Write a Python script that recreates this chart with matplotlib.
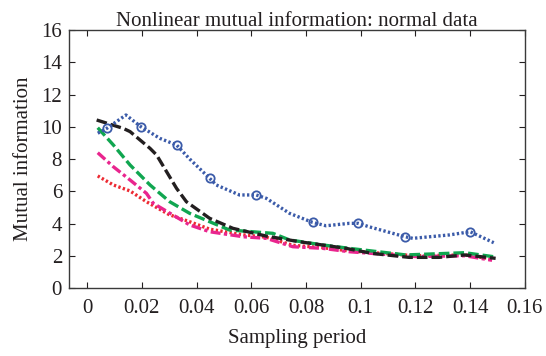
import matplotlib
matplotlib.use("Agg")
import matplotlib.pyplot as plt

plt.rcParams['font.family'] = ['Liberation Serif', 'DejaVu Serif']

title = "Nonlinear mutual information: normal data"
xlabel = "Sampling period"
ylabel = "Mutual information"
xticks = [0, 0.02, 0.04, 0.06, 0.08, 0.1, 0.12, 0.14, 0.16]
xticklabels = ["0", "0.02", "0.04", "0.06", "0.08", "0.1", "0.12", "0.14", "0.16"]
yticks = [0, 2, 4, 6, 8, 10, 12, 14, 16]

blue_x = [0.0039, 0.0072, 0.0142, 0.0197, 0.0266, 0.0327, 0.0375, 0.0448, 0.0472, 0.0557, 0.0618,
          0.0655, 0.074, 0.0824, 0.0873, 0.0958, 0.0991, 0.103, 0.1162, 0.119, 0.1323, 0.14, 0.1486]
blue_y = [9.6, 9.9, 10.73, 10.0, 9.28, 8.87, 8.0, 6.80, 6.39, 5.77, 5.77,
          5.56, 4.63, 4.07, 3.86, 4.01, 4.01, 3.80, 3.18, 3.08, 3.29, 3.49, 2.81]
blue_marks = [1, 3, 5, 7, 10, 13, 16, 18, 21]

black_x = [0.0035, 0.0132, 0.0157, 0.023, 0.0254, 0.0327, 0.0363, 0.0448, 0.0533, 0.0655, 0.0776,
           0.0946, 0.104, 0.1177, 0.1286, 0.138, 0.1493]
black_y = [10.42, 9.9, 9.7, 8.66, 8.25, 6.18, 5.35, 4.32, 3.70, 3.22, 2.87,
           2.46, 2.15, 1.90, 1.90, 2.05, 1.84]

green_x = [0.0039, 0.0096, 0.0157, 0.023, 0.0302, 0.0375, 0.0448, 0.052, 0.0679, 0.074, 0.0861,
           0.0958, 0.1165, 0.138, 0.1486]
green_y = [9.94, 8.87, 7.63, 6.39, 5.35, 4.63, 4.11, 3.60, 3.39, 2.98, 2.67,
           2.46, 2.05, 2.19, 1.94]

magenta_x = [0.0039, 0.0096, 0.0157, 0.0217, 0.0242, 0.0375, 0.0448, 0.057, 0.0655, 0.0752, 0.0861,
             0.0958, 0.12, 0.138, 0.148]
magenta_y = [8.39, 7.52, 6.70, 5.87, 5.25, 3.91, 3.49, 3.18, 3.08, 2.56, 2.46,
             2.25, 1.95, 2.0, 1.72]

red_x = [0.0039, 0.0096, 0.0157, 0.0217, 0.0300, 0.0375, 0.0448, 0.057, 0.0655, 0.0752, 0.0861,
         0.0958, 0.12, 0.138, 0.148]
red_y = [6.95, 6.39, 6.02, 5.35, 4.55, 4.11, 3.65, 3.30, 3.15, 2.65, 2.50,
         2.30, 2.0, 2.05, 1.8]

fig = plt.figure(figsize=(5.46, 3.56), dpi=100)
ax = fig.add_axes([0.1264, 0.191, 0.835, 0.7247])

lw = 2.4
ax.plot(red_x, red_y, color='#ed2a32', lw=lw, linestyle=(0, (0.7, 0.7)), dash_capstyle='butt', zorder=2)
ax.plot(magenta_x, magenta_y, color='#e9258e', lw=lw, linestyle=(0, (3, 1.0, 1.0, 1.0)), zorder=3)
ax.plot(green_x, green_y, color='#10a650', lw=lw, linestyle=(0, (3.2, 1.2)), zorder=4)
ax.plot(black_x, black_y, color='#231f20', lw=lw, linestyle=(0, (3.2, 1.2)), zorder=5)
ax.plot(blue_x, blue_y, color='#3b5ba9', lw=lw, linestyle=(0, (0.7, 0.7)), zorder=6,
        marker='o', markevery=blue_marks, markersize=6, markerfacecolor='none',
        markeredgecolor='#3b5ba9', markeredgewidth=1.3)

ax.set_xlim(-0.0066, 0.16)
ax.set_ylim(0, 16)
ax.set_xticks(xticks)
ax.set_xticklabels(xticklabels)
ax.set_yticks(yticks)
ax.tick_params(direction='in', top=True, right=True, length=4, width=0.8,
               labelsize=15, colors='#231f20')
ax.tick_params(axis='x', pad=8)
ax.tick_params(axis='y', pad=5)
for s in ax.spines.values():
    s.set_linewidth(1.0)
    s.set_color('#3a3a3a')

ax.set_title(title, fontsize=15, pad=3, color='#231f20')
ax.set_xlabel(xlabel, fontsize=15, labelpad=8, color='#231f20')
ax.set_ylabel(ylabel, fontsize=15, labelpad=6, color='#231f20')

fig.savefig("out.png", dpi=100)
